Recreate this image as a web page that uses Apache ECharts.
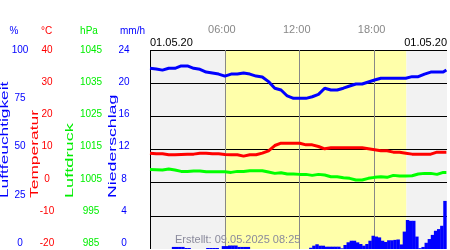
<!DOCTYPE html>
<html><head><meta charset="utf-8">
<script src="https://cdn.jsdelivr.net/npm/echarts@6/dist/echarts.min.js"></script>
<style>html,body{margin:0;padding:0;background:#fff}#c{width:450px;height:250px}</style>
</head><body><div id="c"></div>
<script>
const hours = [0,0.5,1,1.5,2,2.5,3,3.5,4,4.5,5,5.5,6,6.5,7,7.5,8,8.5,9,9.5,10,10.5,11,11.5,12,12.5,13,13.5,14,14.5,15,15.5,16,16.5,17,17.5,18,18.5,19,19.5,20,20.5,21,21.5,22,22.5,23,23.5,23.75];
const humidity = [90.8,90.5,89.9,90.8,90.8,92.0,92.0,90.8,90.3,88.9,88.4,87.9,86.9,87.9,87.9,88.4,87.9,86.9,86.4,84.1,80.8,79.9,76.9,75.7,75.7,75.7,76.5,77.7,80.8,79.9,79.9,80.8,81.9,82.9,82.9,83.9,84.9,85.8,85.8,85.8,85.8,85.8,86.6,86.6,87.9,88.9,88.9,88.9,89.9];
const temperature = [8.9,8.7,8.7,8.4,8.4,8.5,8.6,8.6,8.9,8.9,8.7,8.7,8.5,8.4,8.4,8.0,8.4,8.4,8.9,9.6,11.2,11.9,11.9,11.9,11.9,11.4,11.4,10.9,10.2,10.5,10.5,10.5,10.5,10.5,10.5,10.2,9.9,9.6,9.6,9.2,9.2,8.9,8.6,8.6,8.6,8.6,9.2,9.2,9.2];
const pressure = [1009.0,1008.9,1008.8,1009.1,1008.8,1008.4,1008.4,1008.5,1008.5,1008.3,1008.3,1008.3,1008.3,1008.1,1008.4,1008.4,1008.6,1008.6,1008.6,1008.2,1007.8,1008.0,1007.6,1007.6,1007.5,1007.5,1007.2,1007.5,1007.3,1006.8,1006.8,1006.5,1006.3,1005.8,1005.8,1006.3,1006.6,1006.8,1006.6,1007.2,1007.0,1007.0,1007.1,1007.6,1007.8,1007.8,1007.5,1008.1,1008.1];
const precipStep = 0.25;
const precipitation = [0,0,0,0,0,0,0,0.25,0.25,0.25,0.25,0.12,0.12,0,0,0,0,0,0.12,0.12,0.12,0.12,0,0.35,0.35,0.42,0.42,0.42,0.25,0.25,0.25,0.25,
 0,0,0,0,0,0,0,0,0,0,0,0,0,0,0,0,0,0,0,
 0.15,0.4,0.57,0.4,0.4,0.28,0.28,0.28,0.28,0.28,0.08,0.48,0.81,1.0,1.0,0.8,0.6,0.4,0.6,1.0,1.6,1.5,1.4,1.0,0.85,1.05,1.05,1.1,1.15,0.55,2.1,3.5,3.4,3.4,1.5,0.1,0.25,0.75,1.2,1.7,2.2,2.4,2.8,5.8];
const timeTicks = ['', '06:00', '12:00', '18:00'];
const humidityTicks = ['0','25','50','75','100'];
const temperatureTicks = ['-20','-10','0','10','20','30','40'];
const pressureTicks = ['985','995','1005','1015','1025','1035','1045'];
const precipTicks = ['0','4','8','12','16','20','24'];
const unitLabels = ['%','°C','hPa','mm/h'];
const axisTitles = ['Luftfeuchtigkeit','Temperatur','Luftdruck','Niederschlag'];
const dateLabel = '01.05.20';
const createdLabel = 'Erstellt: 09.05.2025 08:25';
const dayPeriods = [[0, 6.0, 'night'], [6.0, 20.55, 'day'], [20.55, 23.8, 'night']];

const FONT = '"Liberation Sans", Arial, sans-serif';
const BLUE = '#0000ff', RED = '#ff0000', GREEN = '#00ee00';
const pairs = arr => hours.map((h, i) => [h, arr[i]]);

const labelAxis = (data, offset, color) => ({
  gridIndex: 1, type: 'category', data: data, boundaryGap: false, position: 'left', offset: offset,
  axisLine: {show: false}, axisTick: {show: false}, splitLine: {show: false},
  axisLabel: {interval: 0, align: 'center', margin: 0, color: color, fontSize: 10, fontFamily: FONT}
});

const unitX = [14, 46.5, 89, 132.5];
const unitColors = [BLUE, RED, GREEN, BLUE];
const titleX = [5.5, 35, 70.5, 113];
const titleScale = [1.73, 1.74, 1.82, 1.77];

const graphics = [];
unitLabels.forEach((t, i) => graphics.push({type: 'text', x: unitX[i], y: 31, z: 10,
  style: {text: t, fill: unitColors[i], font: '10px ' + FONT, align: 'center', verticalAlign: 'middle', textAlign: 'center', textVerticalAlign: 'middle'}}));
axisTitles.forEach((t, i) => graphics.push({type: 'text', x: titleX[i], y: 198, rotation: Math.PI / 2, scaleX: titleScale[i], z: 10,
  style: {text: t, fill: unitColors[i], font: '10px ' + FONT, align: 'left', verticalAlign: 'middle', textAlign: 'left', textVerticalAlign: 'middle'}}));
graphics.push({type: 'text', x: 150, y: 43, z: 10, style: {text: dateLabel, fill: '#000', font: '11px ' + FONT, align: 'left', verticalAlign: 'middle', textAlign: 'left', textVerticalAlign: 'middle'}});
graphics.push({type: 'text', x: 447, y: 43, z: 10, style: {text: dateLabel, fill: '#000', font: '11px ' + FONT, align: 'right', verticalAlign: 'middle', textAlign: 'right', textVerticalAlign: 'middle'}});
graphics.push({type: 'text', x: 175, y: 240, z: 10, style: {text: createdLabel, fill: '#8a8a9c', font: '11px ' + FONT, align: 'left', verticalAlign: 'middle', textAlign: 'left', textVerticalAlign: 'middle'}});

const chart = echarts.init(document.getElementById('c'), null, {renderer: 'canvas'});
chart.setOption({
  animation: false,
  backgroundColor: '#ffffff',
  grid: [
    {left: 150, right: 1, top: 50, bottom: 1},
    {left: 150, right: 1, top: 50, bottom: 6.7}
  ],
  xAxis: [
    {gridIndex: 0, type: 'value', min: 0, max: 23.8, interval: 6, position: 'top', z: 1,
     axisLine: {show: false}, axisTick: {show: false},
     axisLabel: {margin: 20, verticalAlign: 'middle', color: '#888888', fontSize: 11, fontFamily: FONT, padding: [0, 6, 0, 0],
       formatter: v => (v % 6 === 0 ? (timeTicks[v / 6] || '') : '')},
     splitLine: {show: true, lineStyle: {width: 1, color: ['#000000', '#888888', '#888888', '#888888', 'rgba(0,0,0,0)']}}},
    {gridIndex: 1, type: 'value', min: 0, max: 1, show: false}
  ],
  yAxis: [
    {gridIndex: 0, type: 'value', min: -20, max: 40, interval: 10, z: 1,
     axisLine: {show: false}, axisTick: {show: false}, axisLabel: {show: false},
     splitLine: {show: true, lineStyle: {width: 1, color: ['rgba(0,0,0,0)', '#000', '#000', '#000', '#000', '#000', '#000']}}},
    {gridIndex: 0, type: 'value', min: 0, max: 100, show: false, splitLine: {show: false}},
    {gridIndex: 0, type: 'value', min: 985, max: 1045, show: false, splitLine: {show: false}},
    {gridIndex: 0, type: 'value', min: 0, max: 24, show: false, splitLine: {show: false}},
    labelAxis(humidityTicks, 130, BLUE),
    labelAxis(temperatureTicks, 103, RED),
    labelAxis(pressureTicks, 59, GREEN),
    labelAxis(precipTicks, 26, BLUE)
  ],
  graphic: graphics,
  series: [
    {type: 'custom', xAxisIndex: 0, yAxisIndex: 0, z: 0, silent: true,
     encode: {x: [0, 1]},
     data: dayPeriods.map(p => [p[0], p[1]]),
     renderItem: (params, api) => {
       const s = api.coord([api.value(0), 0]);
       const e = api.coord([api.value(1), 0]);
       const cs = params.coordSys;
       return {type: 'rect', shape: {x: s[0], y: cs.y, width: e[0] - s[0], height: cs.height},
               style: {fill: dayPeriods[params.dataIndex][2] === 'day' ? '#ffffaa' : '#f2f2f2'}};
     }},
    {type: 'custom', name: 'Niederschlag', xAxisIndex: 0, yAxisIndex: 3, z: 2,
     encode: {x: 0, y: 1},
     data: precipitation.map((v, i) => [i * precipStep, v]),
     renderItem: (params, api) => {
       const v = api.value(1);
       if (!(v > 0)) return null;
       const p0 = api.coord([api.value(0), v]);
       const p1 = api.coord([api.value(0) + precipStep, 0]);
       return {type: 'rect', shape: {x: p0[0], y: p0[1], width: p1[0] - p0[0] + 0.3, height: p1[1] - p0[1]}, style: {fill: BLUE}};
     }},
    {type: 'line', name: 'Luftdruck', xAxisIndex: 0, yAxisIndex: 2, z: 3, data: pairs(pressure), showSymbol: false, symbol: 'none',
     lineStyle: {color: '#00ff00', width: 3}},
    {type: 'line', name: 'Temperatur', xAxisIndex: 0, yAxisIndex: 0, z: 3, data: pairs(temperature), showSymbol: false, symbol: 'none',
     lineStyle: {color: RED, width: 3}},
    {type: 'line', name: 'Luftfeuchtigkeit', xAxisIndex: 0, yAxisIndex: 1, z: 3, data: pairs(humidity), showSymbol: false, symbol: 'none',
     lineStyle: {color: BLUE, width: 3}}
  ]
});
</script>
</body></html>
